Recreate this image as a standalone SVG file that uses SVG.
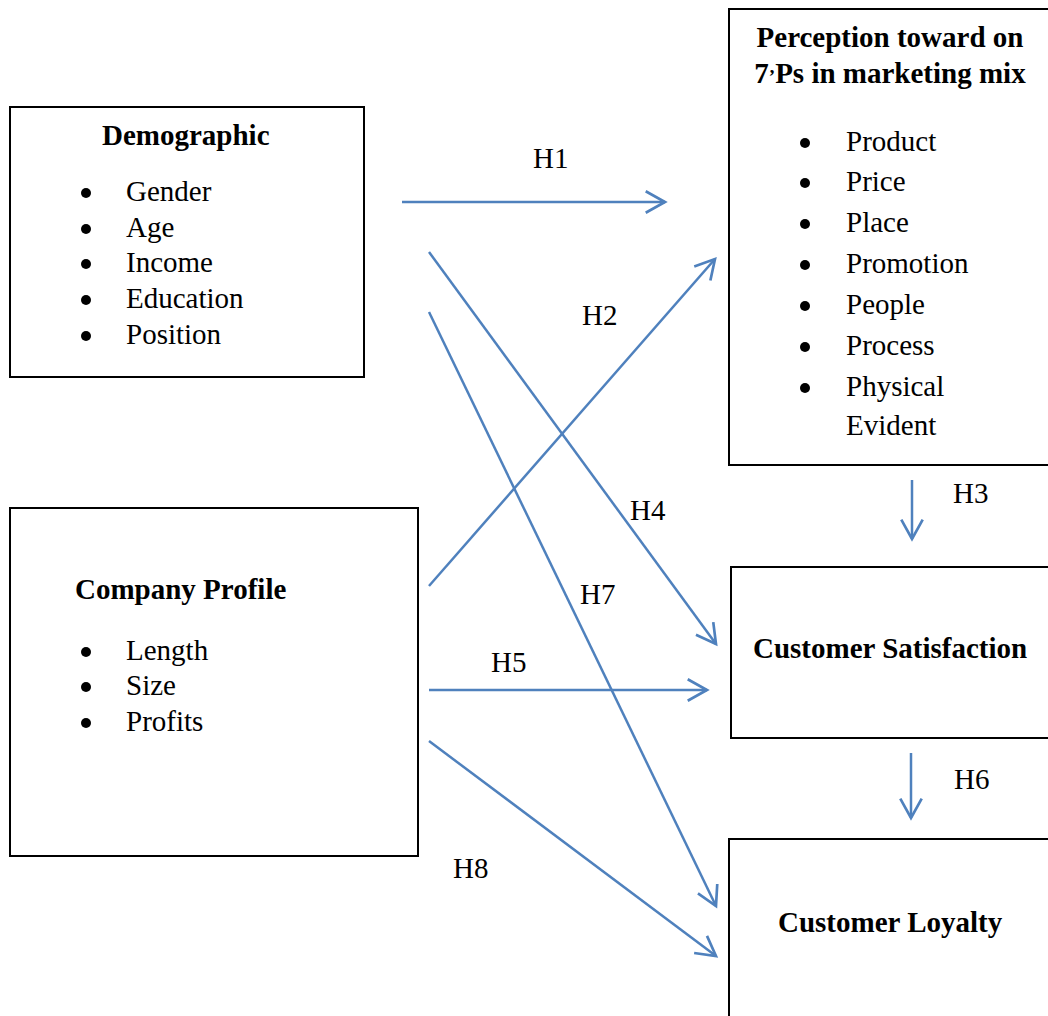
<svg xmlns="http://www.w3.org/2000/svg" width="1048" height="1016" viewBox="0 0 1048 1016">
  <style>
    .box { fill: #ffffff; stroke: #000000; stroke-width: 2; }
    .t { font-family: "Liberation Serif", "Times New Roman", serif; font-size: 29px; fill: #000000; }
    .b { font-weight: bold; }
    .dot { fill: #000000; }
    .conn line { stroke: #4F81BD; stroke-width: 2.5; fill: none; marker-end: url(#arrow); }
  </style>
  <defs>
    <marker id="arrow" markerUnits="userSpaceOnUse" markerWidth="30" markerHeight="30" viewBox="-22 -14 26 28" refX="0" refY="0" orient="auto" overflow="visible">
      <path d="M-18,-10 L0,0 L-18,10" fill="none" stroke="#4F81BD" stroke-width="2.5" stroke-linejoin="miter"/>
    </marker>
  </defs>

  <rect x="0" y="0" width="1048" height="1016" fill="#ffffff"/>

  <!-- Demographic -->
  <g id="demographic">
    <rect class="box" x="10" y="107" width="354" height="270"/>
    <text class="t b" x="102" y="145">Demographic</text>
    <circle class="dot" cx="86" cy="193" r="5"/>
    <text class="t" x="126" y="201">Gender</text>
    <circle class="dot" cx="86" cy="229" r="5"/>
    <text class="t" x="126" y="237">Age</text>
    <circle class="dot" cx="86" cy="264" r="5"/>
    <text class="t" x="126" y="272">Income</text>
    <circle class="dot" cx="86" cy="300" r="5"/>
    <text class="t" x="126" y="308">Education</text>
    <circle class="dot" cx="86" cy="336" r="5"/>
    <text class="t" x="126" y="344">Position</text>
  </g>

  <!-- Company Profile -->
  <g id="company-profile">
    <rect class="box" x="10" y="508" width="408" height="348"/>
    <text class="t b" x="75" y="599">Company Profile</text>
    <circle class="dot" cx="86" cy="652" r="5"/>
    <text class="t" x="126" y="660">Length</text>
    <circle class="dot" cx="86" cy="687" r="5"/>
    <text class="t" x="126" y="695">Size</text>
    <circle class="dot" cx="86" cy="723" r="5"/>
    <text class="t" x="126" y="731">Profits</text>
  </g>

  <!-- Perception toward the 7Ps -->
  <g id="perception">
    <rect class="box" x="729" y="9" width="340" height="456"/>
    <text class="t b" x="890" y="47" text-anchor="middle">Perception toward on</text>
    <text class="t b" x="890" y="83" text-anchor="middle">7<tspan font-size="19">’</tspan>Ps in marketing mix</text>
    <circle class="dot" cx="805" cy="143" r="5"/>
    <text class="t" x="846" y="151">Product</text>
    <circle class="dot" cx="805" cy="183" r="5"/>
    <text class="t" x="846" y="191">Price</text>
    <circle class="dot" cx="805" cy="224" r="5"/>
    <text class="t" x="846" y="232">Place</text>
    <circle class="dot" cx="805" cy="265" r="5"/>
    <text class="t" x="846" y="273">Promotion</text>
    <circle class="dot" cx="805" cy="306" r="5"/>
    <text class="t" x="846" y="314">People</text>
    <circle class="dot" cx="805" cy="347" r="5"/>
    <text class="t" x="846" y="355">Process</text>
    <circle class="dot" cx="805" cy="388" r="5"/>
    <text class="t" x="846" y="396">Physical</text>
    <text class="t" x="846" y="435">Evident</text>
  </g>

  <!-- Customer Satisfaction -->
  <g id="customer-satisfaction">
    <rect class="box" x="731" y="567" width="340" height="171"/>
    <text class="t b" x="753" y="658">Customer Satisfaction</text>
  </g>

  <!-- Customer Loyalty -->
  <g id="customer-loyalty">
    <rect class="box" x="729" y="839" width="340" height="200"/>
    <text class="t b" x="778" y="932">Customer Loyalty</text>
  </g>

  <!-- Hypothesis connectors -->
  <g id="connectors" class="conn">
    <line x1="402" y1="202" x2="665" y2="202"/>
    <line x1="429" y1="586" x2="715" y2="259"/>
    <line x1="912" y1="480" x2="912" y2="539"/>
    <line x1="429" y1="252" x2="716" y2="644"/>
    <line x1="429" y1="690" x2="707" y2="690"/>
    <line x1="911" y1="753" x2="911" y2="818"/>
    <line x1="429" y1="312" x2="716" y2="906"/>
    <line x1="429" y1="741" x2="716" y2="956"/>
  </g>

  <!-- Hypothesis labels -->
  <g id="labels">
    <text class="t" x="533" y="168">H1</text>
    <text class="t" x="582" y="325">H2</text>
    <text class="t" x="953" y="503">H3</text>
    <text class="t" x="630" y="520">H4</text>
    <text class="t" x="491" y="672">H5</text>
    <text class="t" x="954" y="789">H6</text>
    <text class="t" x="580" y="604">H7</text>
    <text class="t" x="453" y="878">H8</text>
  </g>
</svg>
